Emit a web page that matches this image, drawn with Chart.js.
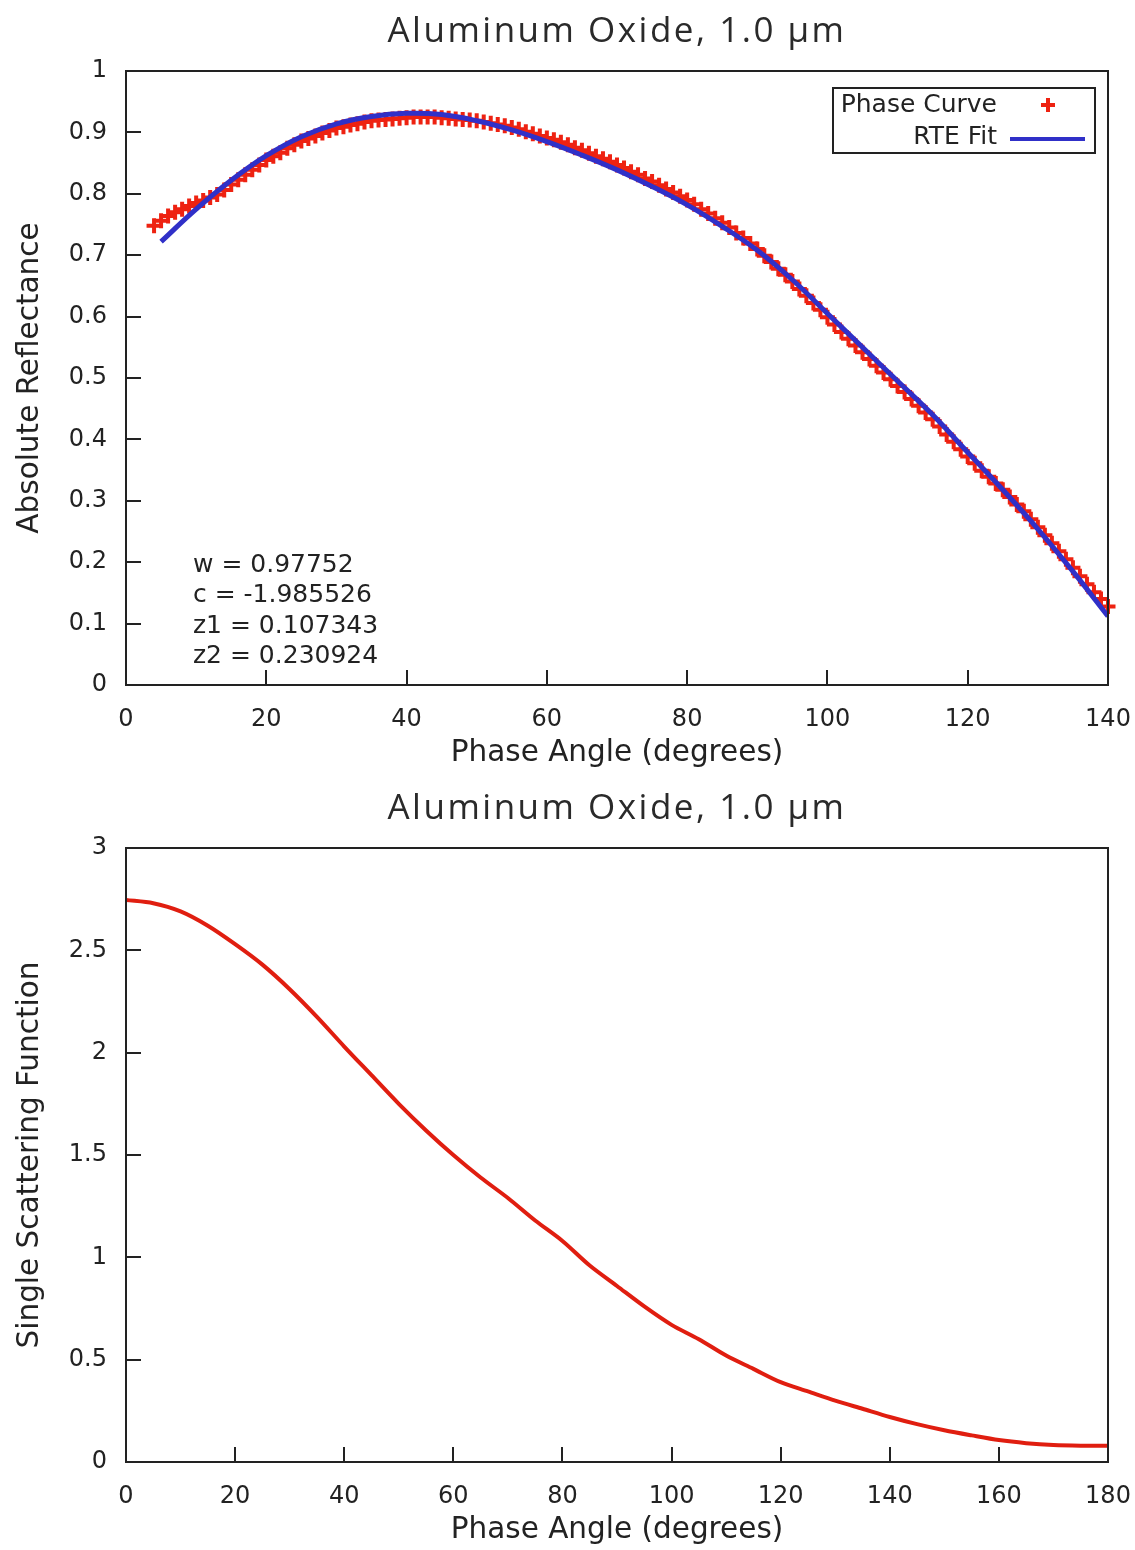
<!DOCTYPE html>
<html>
<head>
<meta charset="utf-8">
<script src="https://cdn.jsdelivr.net/npm/chart.js@4.4.1/dist/chart.umd.min.js"></script>
<style>
body { margin: 0; background: #fff; width: 1135px; height: 1550px; overflow: hidden; position: relative; }
canvas { position: absolute; left: 0; }
#reflectanceChart { top: 0; }
#scatteringChart { top: 777px; }
</style>
</head>
<body>
<canvas id="reflectanceChart" width="1135" height="775"></canvas>
<canvas id="scatteringChart" width="1135" height="775"></canvas>
<script>
const titleText = 'Aluminum Oxide, 1.0 µm';
const xTitle = 'Phase Angle (degrees)';

// measured phase curve, one point per degree starting at 4
const phaseStart = 4;
const phaseCurve = [
    0.748, 0.756, 0.764, 0.770, 0.775, 0.780, 0.785, 0.789, 0.794, 0.799,
    0.806, 0.815, 0.823, 0.831, 0.839, 0.847, 0.855, 0.861, 0.867, 0.874,
    0.880, 0.886, 0.890, 0.894, 0.899, 0.903, 0.907, 0.909, 0.912, 0.914,
    0.917, 0.919, 0.920, 0.921, 0.922, 0.923, 0.924, 0.925, 0.925, 0.925,
    0.925, 0.924, 0.923, 0.922, 0.921, 0.920, 0.919, 0.917, 0.915, 0.913,
    0.911, 0.908, 0.905, 0.901, 0.898, 0.894, 0.891, 0.888, 0.884, 0.880,
    0.875, 0.871, 0.866, 0.861, 0.857, 0.852, 0.847, 0.842, 0.836, 0.831,
    0.825, 0.820, 0.814, 0.808, 0.802, 0.796, 0.790, 0.783, 0.775, 0.768,
    0.760, 0.753, 0.745, 0.736, 0.728, 0.719, 0.710, 0.699, 0.689, 0.678,
    0.668, 0.657, 0.645, 0.634, 0.622, 0.611, 0.599, 0.587, 0.575, 0.564,
    0.553, 0.542, 0.531, 0.520, 0.509, 0.498, 0.487, 0.477, 0.466, 0.455,
    0.444, 0.433, 0.421, 0.408, 0.396, 0.384, 0.372, 0.361, 0.349, 0.339,
    0.328, 0.318, 0.306, 0.294, 0.283, 0.270, 0.257, 0.244, 0.231, 0.218,
    0.205, 0.191, 0.177, 0.164, 0.151, 0.140, 0.128, 0.118
];

// RTE fit
const fitAngles = [5, 10, 15, 20, 25, 30, 35, 40, 45, 50, 55, 60, 65, 70, 75, 80, 85, 90, 95, 100, 105, 110, 115, 120, 125, 130, 135, 140];
const fitValues = [0.722, 0.775, 0.822, 0.862, 0.893, 0.914, 0.926, 0.931, 0.929, 0.919, 0.904, 0.885, 0.863, 0.839, 0.812, 0.782, 0.747, 0.708, 0.660, 0.605, 0.550, 0.495, 0.440, 0.379, 0.318, 0.254, 0.185, 0.112];
const fitParams = ['w = 0.97752', 'c = -1.985526', 'z1 = 0.107343', 'z2 = 0.230924'];

// single scattering function
const ssfAngles = [0, 5, 10, 15, 20, 25, 30, 35, 40, 45, 50, 55, 60, 65, 70, 75, 80, 85, 90, 95, 100, 105, 110, 115, 120, 125, 130, 135, 140, 145, 150, 155, 160, 165, 170, 175, 180];
const ssfValues = [2.746, 2.73, 2.69, 2.62, 2.53, 2.43, 2.31, 2.175, 2.03, 1.89, 1.75, 1.62, 1.50, 1.39, 1.29, 1.18, 1.08, 0.96, 0.86, 0.76, 0.67, 0.60, 0.52, 0.455, 0.39, 0.345, 0.30, 0.26, 0.22, 0.185, 0.155, 0.13, 0.107, 0.092, 0.083, 0.08, 0.08];

const ink = '#222';
const red = '#ee2211';
const blue = '#3030c8';

Chart.defaults.font.family = '"DejaVu Sans", sans-serif';
Chart.defaults.color = ink;

// gnuplot-like frame: full border, inward ticks on left/bottom, title over the plot
const framePlugin = {
    id: 'frame',
    afterDraw(chart, args, opts) {
        const c = chart.ctx;
        const area = chart.chartArea;
        c.save();
        c.strokeStyle = ink;
        c.lineWidth = 2;
        c.strokeRect(area.left, area.top, area.right - area.left, area.bottom - area.top);
        c.beginPath();
        chart.scales.x.ticks.forEach(t => {
            const px = Math.round(chart.scales.x.getPixelForValue(t.value));
            c.moveTo(px, area.bottom);
            c.lineTo(px, area.bottom - 15);
        });
        chart.scales.y.ticks.forEach(t => {
            const py = Math.round(chart.scales.y.getPixelForValue(t.value));
            c.moveTo(area.left, py);
            c.lineTo(area.left + 15, py);
        });
        c.stroke();

        c.fillStyle = '#2a2a2a';
        c.font = '35px "Open Sans", sans-serif';
        c.letterSpacing = '2.5px';
        c.textAlign = 'center';
        c.textBaseline = 'middle';
        c.fillText(opts.title, (area.left + area.right) / 2, 32);
        c.restore();
    }
};

// legend box and fit parameters inside the top plot
const notesPlugin = {
    id: 'notes',
    afterDraw(chart) {
        const c = chart.ctx;
        const area = chart.chartArea;
        const ds = chart.data.datasets;
        c.save();
        c.font = '25px "DejaVu Sans", sans-serif';
        c.fillStyle = ink;
        c.strokeStyle = ink;
        c.lineWidth = 2;
        const bx = area.right - 275, by = area.top + 17;
        c.strokeRect(bx, by, 262, 65);
        c.textAlign = 'right';
        c.textBaseline = 'middle';
        c.fillText(ds[1].label, bx + 164, by + 17);
        c.fillText(ds[0].label, bx + 164, by + 49);

        c.strokeStyle = red;
        c.lineWidth = 4;
        c.beginPath();
        c.moveTo(bx + 208, by + 17);
        c.lineTo(bx + 222, by + 17);
        c.moveTo(bx + 215, by + 10);
        c.lineTo(bx + 215, by + 24);
        c.stroke();

        c.strokeStyle = blue;
        c.lineWidth = 4;
        c.beginPath();
        c.moveTo(bx + 177, by + 51);
        c.lineTo(bx + 252, by + 51);
        c.stroke();

        c.textAlign = 'left';
        fitParams.forEach((line, i) => {
            c.fillText(line, area.left + 67, area.bottom - 120 + i * 30.5);
        });
        c.restore();
    }
};

function baseScales(xMax, yMax, yStep, yTitle) {
    return {
        x: {
            type: 'linear',
            min: 0,
            max: xMax,
            grid: { display: false, drawTicks: false },
            border: { display: false },
            ticks: { stepSize: 20, padding: 20, font: { size: 24 }, color: ink, maxRotation: 0 },
            title: { display: true, text: xTitle, font: { size: 29.5 }, color: ink, padding: { top: 0, bottom: 4 } },
            afterFit(scale) {
                scale.height = 90;
                // edge labels fit in the layout padding, don't shrink the plot
                scale.paddingLeft = 0;
                scale.paddingRight = 0;
            }
        },
        y: {
            min: 0,
            max: yMax,
            grid: { display: false, drawTicks: false },
            border: { display: false },
            ticks: {
                stepSize: yStep, padding: 19, font: { size: 24 }, color: ink,
                callback: v => String(Number(v.toFixed(2)))
            },
            title: { display: true, text: yTitle, font: { size: 29.5 }, color: ink, padding: { top: 13, bottom: 0 } },
            afterFit(scale) { scale.width = 126; }
        }
    };
}

new Chart(document.getElementById('reflectanceChart'), {
    type: 'line',
    data: {
        datasets: [{
            label: 'RTE Fit',
            data: fitAngles.map((a, i) => ({ x: a, y: fitValues[i] })),
            borderColor: blue,
            borderWidth: 5,
            pointRadius: 0,
            tension: 0.4,
            fill: false,
            order: 1
        }, {
            label: 'Phase Curve',
            data: phaseCurve.map((v, i) => ({ x: phaseStart + i, y: v })),
            showLine: false,
            pointStyle: 'cross',
            pointRadius: 7.5,
            pointBorderWidth: 4,
            borderColor: red,
            backgroundColor: red,
            clip: false,
            order: 2
        }]
    },
    options: {
        responsive: false,
        animation: false,
        layout: { padding: { top: 71, right: 27, left: 0, bottom: 0 } },
        plugins: {
            legend: { display: false },
            tooltip: { enabled: false },
            frame: { title: titleText }
        },
        scales: baseScales(140, 1, 0.1, 'Absolute Reflectance')
    },
    plugins: [framePlugin, notesPlugin]
});

new Chart(document.getElementById('scatteringChart'), {
    type: 'line',
    data: {
        datasets: [{
            label: 'Single Scattering Function',
            data: ssfAngles.map((a, i) => ({ x: a, y: ssfValues[i] })),
            borderColor: '#e01e10',
            borderWidth: 4,
            pointRadius: 0,
            tension: 0.3,
            fill: false
        }]
    },
    options: {
        responsive: false,
        animation: false,
        layout: { padding: { top: 71, right: 27, left: 0, bottom: 0 } },
        plugins: {
            legend: { display: false },
            tooltip: { enabled: false },
            frame: { title: titleText }
        },
        scales: baseScales(180, 3, 0.5, 'Single Scattering Function')
    },
    plugins: [framePlugin]
});
</script>
</body>
</html>
